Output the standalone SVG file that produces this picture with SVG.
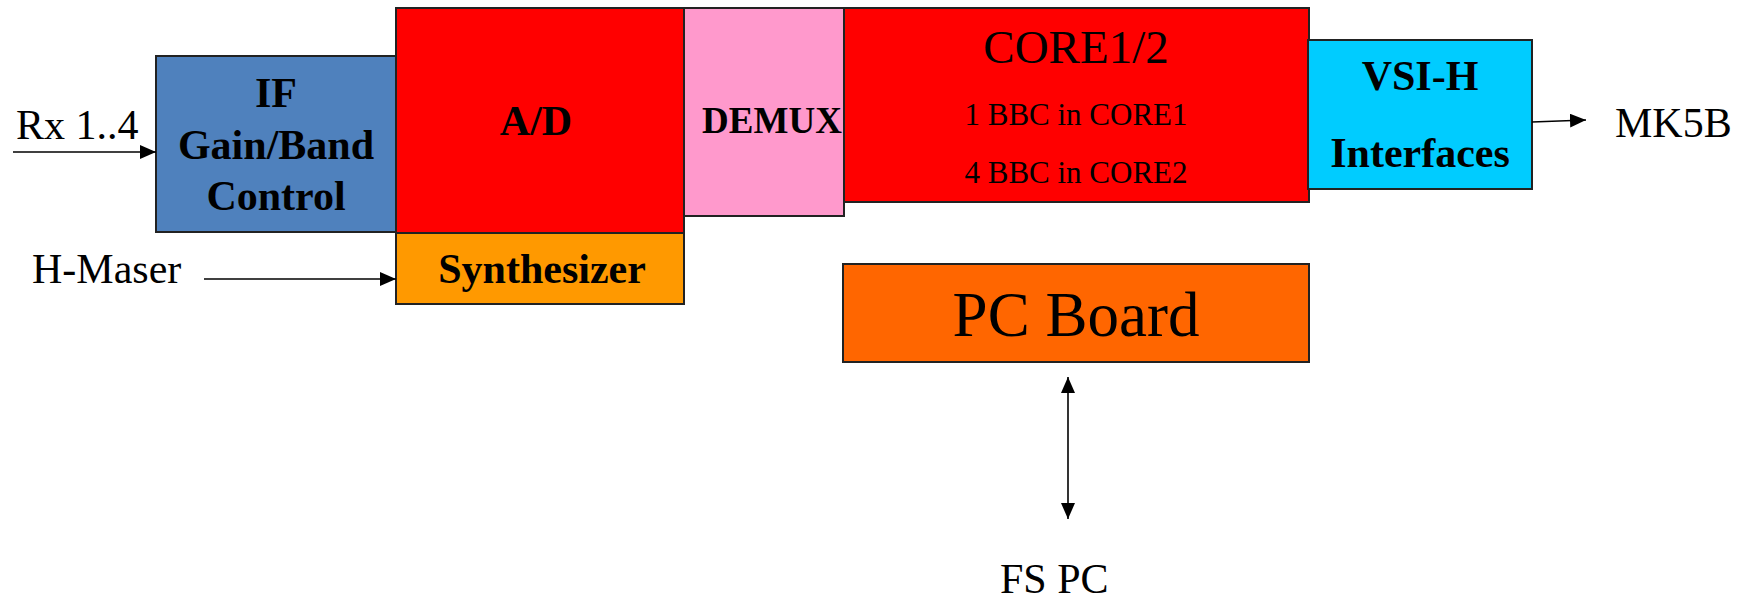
<svg xmlns="http://www.w3.org/2000/svg" width="1746" height="599" viewBox="0 0 1746 599">
<defs>
<marker id="ah" viewBox="0 0 16 14" refX="16" refY="7" markerWidth="16" markerHeight="14" markerUnits="userSpaceOnUse" orient="auto-start-reverse">
<path d="M0,0 L16,7 L0,14 Z" fill="#000"/>
</marker>
</defs>
<style>
rect{stroke:#222;stroke-width:2}
text{font-family:"Liberation Serif","Times New Roman",serif;fill:#000}
.b{font-weight:bold;font-size:42px;text-anchor:middle}
.l{font-size:42px}
.c{text-anchor:middle}
.conn line{stroke:#000;stroke-width:1.6}
</style>
<rect width="1746" height="599" fill="#fff" style="stroke:none"/>
<g id="if">
<rect x="156" y="56" width="240" height="176" fill="#4F81BD"/>
<text class="b" x="276" y="107">IF</text>
<text class="b" x="276" y="159">Gain/Band</text>
<text class="b" x="276" y="210">Control</text>
</g>
<g id="ad">
<rect x="396" y="8" width="288" height="225" fill="#FF0000"/>
<text class="b" x="536" y="135">A/D</text>
</g>
<g id="synth">
<rect x="396" y="233" width="288" height="71" fill="#FF9900"/>
<text class="b" x="542" y="283">Synthesizer</text>
</g>
<g id="demux">
<rect x="684" y="8" width="160" height="208" fill="#FF99CC"/>
<text class="b" x="772" y="133" style="font-size:37px">DEMUX</text>
</g>
<g id="core">
<rect x="844" y="8" width="465" height="194" fill="#FF0000"/>
<text class="c" x="1076" y="63" style="font-size:47px">CORE1/2</text>
<text class="c" x="1076" y="125" style="font-size:31px">1 BBC in CORE1</text>
<text class="c" x="1076" y="183" style="font-size:31px">4 BBC in CORE2</text>
</g>
<g id="vsi">
<rect x="1308" y="40" width="224" height="149" fill="#00CCFF"/>
<text class="b" x="1420" y="90">VSI-H</text>
<text class="b" x="1420" y="167">Interfaces</text>
</g>
<g id="pc">
<rect x="843" y="264" width="466" height="98" fill="#FF6600"/>
<text class="c" x="1076" y="336" style="font-size:63px">PC Board</text>
</g>
<g id="labels">
<text class="l" x="16" y="139">Rx 1..4</text>
<text class="l" x="32" y="283">H-Maser</text>
<text class="l" x="1615" y="137">MK5B</text>
<text class="l" x="1000" y="593">FS PC</text>
</g>
<g class="conn" id="connectors">
<line x1="13" y1="152" x2="156" y2="152" marker-end="url(#ah)"/>
<line x1="204" y1="279" x2="396" y2="279" marker-end="url(#ah)"/>
<line x1="1532" y1="122" x2="1586" y2="120" marker-end="url(#ah)"/>
<line x1="1068" y1="377" x2="1068" y2="519" marker-start="url(#ah)" marker-end="url(#ah)"/>
</g>
</svg>
